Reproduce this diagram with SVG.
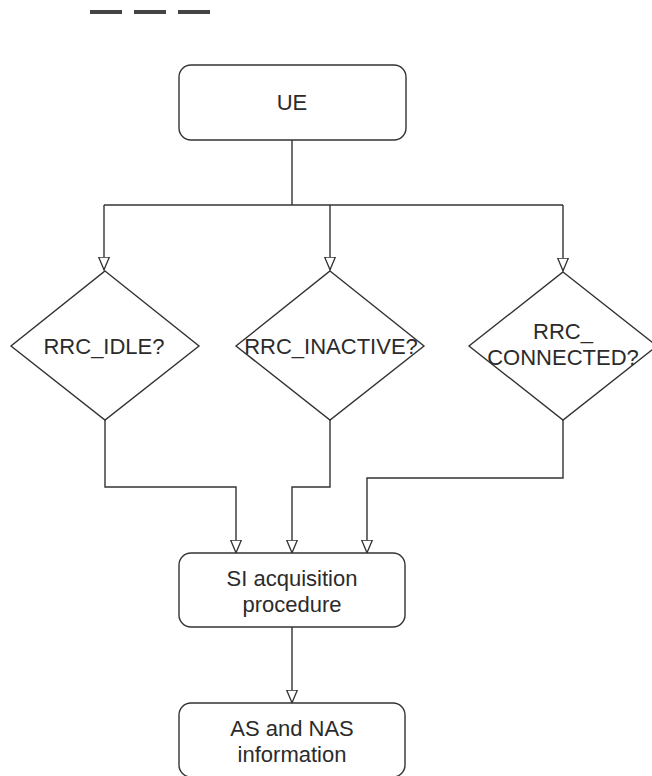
<svg xmlns="http://www.w3.org/2000/svg" width="652" height="776" viewBox="0 0 652 776">
  <style>
    .box { fill: #ffffff; stroke: #333333; stroke-width: 1.4; }
    .wire { fill: none; stroke: #333333; stroke-width: 1.4; }
    .label { font-family: "Liberation Sans", Arial, sans-serif; font-size: 22px; fill: #2b2b2b; text-anchor: middle; }
    .dash { stroke: #444444; stroke-width: 4; }
  </style>
  <defs>
    <!-- hollow open triangle arrowhead, tip at the end of the path -->
    <marker id="hollow" viewBox="0 0 14 12" refX="13.5" refY="6" markerWidth="14" markerHeight="12" markerUnits="userSpaceOnUse" orient="auto">
      <path d="M0.7,0.7 L13.3,6 L0.7,11.3 Z" fill="#ffffff" stroke="#333333" stroke-width="1.3"/>
    </marker>
  </defs>

  <rect width="652" height="776" fill="#ffffff"/>

  <!-- menu dashes -->
  <g id="menu">
    <line class="dash" x1="90" y1="12" x2="122" y2="12"/>
    <line class="dash" x1="134" y1="12" x2="166" y2="12"/>
    <line class="dash" x1="178" y1="12" x2="210" y2="12"/>
  </g>

  <!-- connectors -->
  <g id="connectors">
    <path class="wire" d="M292,140 V205"/>
    <path class="wire" d="M104,205 H563"/>
    <path class="wire" d="M104,205 V270" marker-end="url(#hollow)"/>
    <path class="wire" d="M330,205 V270" marker-end="url(#hollow)"/>
    <path class="wire" d="M563,205 V271" marker-end="url(#hollow)"/>
    <path class="wire" d="M105,420 V487 H236 V553" marker-end="url(#hollow)"/>
    <path class="wire" d="M330,420 V487 H292 V553" marker-end="url(#hollow)"/>
    <path class="wire" d="M563,420 V478 H367 V553" marker-end="url(#hollow)"/>
    <path class="wire" d="M292,627 V703" marker-end="url(#hollow)"/>
  </g>

  <g id="ue">
    <rect class="box" x="179" y="65" width="227" height="75" rx="12"/>
    <text class="label" x="292" y="110">UE</text>
  </g>

  <g id="rrc-idle">
    <polygon class="box" points="105,271 199,346 105,420 11,346"/>
    <text class="label" x="104" y="354">RRC_IDLE?</text>
  </g>

  <g id="rrc-inactive">
    <polygon class="box" points="330,271 424,346 330,420 236,346"/>
    <text class="label" x="331" y="354">RRC_INACTIVE?</text>
  </g>

  <g id="rrc-connected">
    <polygon class="box" points="563,272 657,346 563,420 469,346"/>
    <text class="label" x="563" y="339">RRC_</text>
    <text class="label" x="563" y="365">CONNECTED?</text>
  </g>

  <g id="si-acquisition">
    <rect class="box" x="179" y="553" width="226" height="74" rx="12"/>
    <text class="label" x="292" y="586">SI acquisition</text>
    <text class="label" x="292" y="612">procedure</text>
  </g>

  <g id="as-nas">
    <rect class="box" x="179" y="703" width="226" height="74" rx="12"/>
    <text class="label" x="292" y="736">AS and NAS</text>
    <text class="label" x="292" y="762">information</text>
  </g>
</svg>
